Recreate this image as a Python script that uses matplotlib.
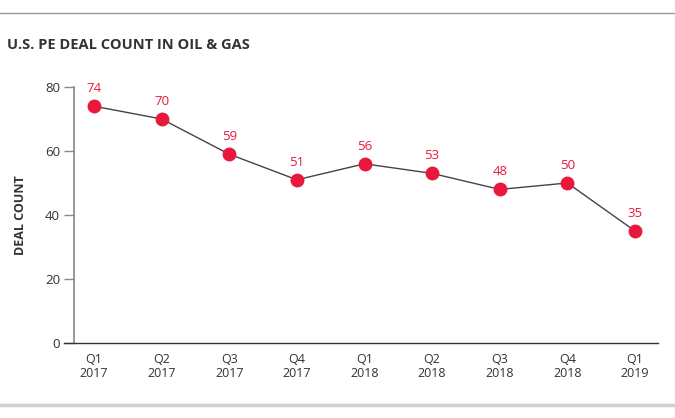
import matplotlib
matplotlib.use("Agg")
import matplotlib.pyplot as plt
from matplotlib.lines import Line2D

quarters = ["Q1\n2017", "Q2\n2017", "Q3\n2017", "Q4\n2017", "Q1\n2018",
            "Q2\n2018", "Q3\n2018", "Q4\n2018", "Q1\n2019"]
deal_count = [74, 70, 59, 51, 56, 53, 48, 50, 35]
y_ticks = [0, 20, 40, 60, 80]

plt.rcParams['font.family'] = ['Open Sans', 'DejaVu Sans']

RED = "#E8193C"
DARK = "#333333"

fig = plt.figure(figsize=(6.75, 4.18), dpi=100)
ax = fig.add_axes([74/675, 1-343/418, (658-74)/675, (343-87)/418])

x = list(range(len(deal_count)))
ax.plot(x, deal_count, color="#444444", lw=1, zorder=2)
ax.plot(x, deal_count, 'o', color=RED, ms=10, zorder=3, markeredgewidth=0)
for xi, v in zip(x, deal_count):
    ax.annotate(str(v), (xi, v), xytext=(0, 8), textcoords="offset points",
                ha="center", va="bottom", color=RED, fontsize=9.5)

ax.set_xlim(-0.296, 8.34)
ax.set_ylim(0, 80)
ax.set_yticks(y_ticks)
ax.set_xticks(x)
ax.set_xticklabels(quarters, fontsize=9, color=DARK, linespacing=1.1)
ax.tick_params(axis='x', length=0, pad=7)
ax.tick_params(axis='y', length=7, width=1, color="#888888", labelcolor=DARK,
               labelsize=9.5, pad=3)
for s in ["top", "right"]:
    ax.spines[s].set_visible(False)
ax.spines["left"].set_color("#888888")
ax.spines["left"].set_linewidth(1.2)
ax.spines["bottom"].set_color(DARK)
ax.spines["bottom"].set_linewidth(1)
ax.spines["bottom"].set_bounds(-0.296 - 10/67.6, 8.34)
ax.spines["bottom"].set_clip_on(False)

ax.set_ylabel("DEAL COUNT", fontsize=9, fontweight="bold", color=DARK)
ax.yaxis.set_label_coords(-47/584, 0.5)

fig.text(7/675, 1-45/418, "U.S. PE DEAL COUNT IN OIL & GAS", fontsize=10.5,
         fontweight="bold", color=DARK, ha="left", va="center")

fig.add_artist(Line2D([0, 1], [1-13/418, 1-13/418], transform=fig.transFigure,
                      color="#999999", lw=1))
fig.add_artist(Line2D([0, 1], [1-405/418, 1-405/418], transform=fig.transFigure,
                      color="#d0d0d0", lw=2.5))

fig.savefig("out.png", dpi=100)
